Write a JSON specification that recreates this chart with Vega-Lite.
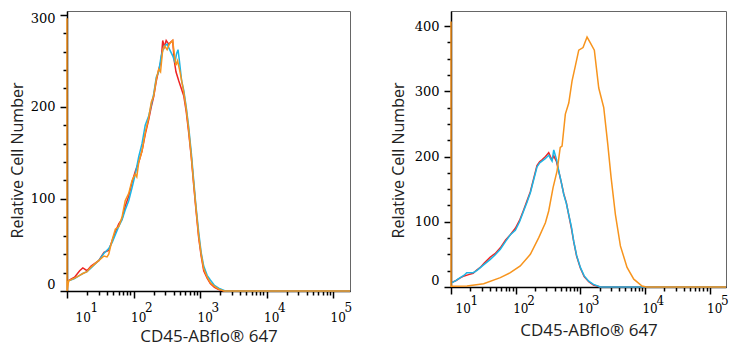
{
  "$schema": "https://vega.github.io/schema/vega-lite/v6.json",
  "background": "white",
  "padding": {"left": 8, "top": 10, "right": 5, "bottom": 5},
  "spacing": 35,
  "config": {
    "view": {"stroke": "#666666", "strokeWidth": 1},
    "axis": {
      "grid": false,
      "domainColor": "#000000",
      "domainWidth": 1.5,
      "tickColor": "#000000",
      "tickWidth": 1.5,
      "labelFont": "DejaVu Serif",
      "labelColor": "#000000",
      "titleFont": "Open Sans",
      "titleFontWeight": "normal",
      "titleFontSize": 16,
      "titleColor": "#222222",
      "labelOverlap": false,
      "labelBound": false,
      "labelFlush": false
    },
    "line": {"strokeWidth": 1.5}
  },
  "data": {"values": [
    {"panel":"A","series":"s1","x":10.6,"y":11.6},{"panel":"A","series":"s1","x":13,"y":15},{"panel":"A","series":"s1","x":15.5,"y":22},{"panel":"A","series":"s1","x":17.3,"y":25},{"panel":"A","series":"s1","x":20,"y":22},{"panel":"A","series":"s1","x":23,"y":27},{"panel":"A","series":"s1","x":30,"y":33},{"panel":"A","series":"s1","x":36,"y":42},{"panel":"A","series":"s1","x":42.4,"y":44},{"panel":"A","series":"s1","x":48,"y":55},{"panel":"A","series":"s1","x":53.3,"y":64},{"panel":"A","series":"s1","x":60,"y":73},{"panel":"A","series":"s1","x":67.1,"y":78},{"panel":"A","series":"s1","x":75,"y":92},{"panel":"A","series":"s1","x":84.7,"y":103},{"panel":"A","series":"s1","x":95,"y":118},{"panel":"A","series":"s1","x":106.5,"y":130},{"panel":"A","series":"s1","x":120,"y":140},{"panel":"A","series":"s1","x":134.2,"y":152},{"panel":"A","series":"s1","x":150,"y":170},{"panel":"A","series":"s1","x":169.2,"y":186},{"panel":"A","series":"s1","x":185,"y":200},{"panel":"A","series":"s1","x":201.3,"y":211},{"panel":"A","series":"s1","x":220,"y":228},{"panel":"A","series":"s1","x":239.3,"y":240},{"panel":"A","series":"s1","x":260,"y":250},{"panel":"A","series":"s1","x":275,"y":272},{"panel":"A","series":"s1","x":290,"y":265},{"panel":"A","series":"s1","x":310,"y":272},{"panel":"A","series":"s1","x":338,"y":268},{"panel":"A","series":"s1","x":360,"y":270},{"panel":"A","series":"s1","x":388,"y":272},{"panel":"A","series":"s1","x":410,"y":250},{"panel":"A","series":"s1","x":435,"y":238},{"panel":"A","series":"s1","x":480,"y":228},{"panel":"A","series":"s1","x":569,"y":212},{"panel":"A","series":"s1","x":620,"y":195},{"panel":"A","series":"s1","x":676,"y":172},{"panel":"A","series":"s1","x":740,"y":145},{"panel":"A","series":"s1","x":804,"y":115},{"panel":"A","series":"s1","x":870,"y":88},{"panel":"A","series":"s1","x":955,"y":58},{"panel":"A","series":"s1","x":1040,"y":38},{"panel":"A","series":"s1","x":1137,"y":22},{"panel":"A","series":"s1","x":1280,"y":14},{"panel":"A","series":"s1","x":1429,"y":8},{"panel":"A","series":"s1","x":1650,"y":4},{"panel":"A","series":"s1","x":1910,"y":1.5},{"panel":"A","series":"s1","x":2300,"y":0},{"panel":"A","series":"s1","x":180000,"y":0},
    {"panel":"A","series":"s2","x":10.6,"y":11},{"panel":"A","series":"s2","x":13,"y":13.5},{"panel":"A","series":"s2","x":15.5,"y":17},{"panel":"A","series":"s2","x":17.3,"y":19},{"panel":"A","series":"s2","x":20,"y":21},{"panel":"A","series":"s2","x":23,"y":25},{"panel":"A","series":"s2","x":30,"y":33},{"panel":"A","series":"s2","x":36,"y":41},{"panel":"A","series":"s2","x":42.4,"y":46},{"panel":"A","series":"s2","x":48,"y":53},{"panel":"A","series":"s2","x":53.3,"y":61},{"panel":"A","series":"s2","x":60,"y":70},{"panel":"A","series":"s2","x":67.1,"y":77},{"panel":"A","series":"s2","x":75,"y":88},{"panel":"A","series":"s2","x":84.7,"y":98},{"panel":"A","series":"s2","x":95,"y":112},{"panel":"A","series":"s2","x":106.5,"y":127},{"panel":"A","series":"s2","x":120,"y":146},{"panel":"A","series":"s2","x":134.2,"y":160},{"panel":"A","series":"s2","x":150,"y":180},{"panel":"A","series":"s2","x":169.2,"y":190},{"panel":"A","series":"s2","x":185,"y":202},{"panel":"A","series":"s2","x":201.3,"y":214},{"panel":"A","series":"s2","x":220,"y":232},{"panel":"A","series":"s2","x":239.3,"y":238},{"panel":"A","series":"s2","x":260,"y":255},{"panel":"A","series":"s2","x":290,"y":266},{"panel":"A","series":"s2","x":320,"y":268},{"panel":"A","series":"s2","x":350,"y":262},{"panel":"A","series":"s2","x":390,"y":255},{"panel":"A","series":"s2","x":420,"y":248},{"panel":"A","series":"s2","x":445,"y":258},{"panel":"A","series":"s2","x":467,"y":262},{"panel":"A","series":"s2","x":490,"y":250},{"panel":"A","series":"s2","x":530,"y":228},{"panel":"A","series":"s2","x":569,"y":218},{"panel":"A","series":"s2","x":620,"y":200},{"panel":"A","series":"s2","x":676,"y":178},{"panel":"A","series":"s2","x":740,"y":150},{"panel":"A","series":"s2","x":804,"y":120},{"panel":"A","series":"s2","x":870,"y":92},{"panel":"A","series":"s2","x":955,"y":64},{"panel":"A","series":"s2","x":1040,"y":42},{"panel":"A","series":"s2","x":1137,"y":27},{"panel":"A","series":"s2","x":1280,"y":17},{"panel":"A","series":"s2","x":1429,"y":12},{"panel":"A","series":"s2","x":1650,"y":6},{"panel":"A","series":"s2","x":1910,"y":3},{"panel":"A","series":"s2","x":2400,"y":0},{"panel":"A","series":"s2","x":180000,"y":0},
    {"panel":"A","series":"s3","x":10,"y":296},{"panel":"A","series":"s3","x":10.02,"y":0},{"panel":"A","series":"s3","x":10.6,"y":11},{"panel":"A","series":"s3","x":13,"y":14},{"panel":"A","series":"s3","x":15.5,"y":17},{"panel":"A","series":"s3","x":17.3,"y":19},{"panel":"A","series":"s3","x":20,"y":21},{"panel":"A","series":"s3","x":23,"y":26},{"panel":"A","series":"s3","x":30,"y":33},{"panel":"A","series":"s3","x":36,"y":38},{"panel":"A","series":"s3","x":40,"y":37},{"panel":"A","series":"s3","x":42.4,"y":40},{"panel":"A","series":"s3","x":48,"y":56},{"panel":"A","series":"s3","x":53.3,"y":67},{"panel":"A","series":"s3","x":60,"y":70},{"panel":"A","series":"s3","x":67.1,"y":80},{"panel":"A","series":"s3","x":75,"y":98},{"panel":"A","series":"s3","x":84.7,"y":106},{"panel":"A","series":"s3","x":95,"y":120},{"panel":"A","series":"s3","x":106.5,"y":127},{"panel":"A","series":"s3","x":112,"y":124},{"panel":"A","series":"s3","x":120,"y":140},{"panel":"A","series":"s3","x":134.2,"y":152},{"panel":"A","series":"s3","x":150,"y":172},{"panel":"A","series":"s3","x":169.2,"y":188},{"panel":"A","series":"s3","x":185,"y":205},{"panel":"A","series":"s3","x":201.3,"y":212},{"panel":"A","series":"s3","x":220,"y":230},{"panel":"A","series":"s3","x":239.3,"y":241},{"panel":"A","series":"s3","x":255,"y":238},{"panel":"A","series":"s3","x":275,"y":262},{"panel":"A","series":"s3","x":295,"y":266},{"panel":"A","series":"s3","x":320,"y":262},{"panel":"A","series":"s3","x":345,"y":268},{"panel":"A","series":"s3","x":365,"y":270},{"panel":"A","series":"s3","x":388,"y":272},{"panel":"A","series":"s3","x":410,"y":258},{"panel":"A","series":"s3","x":435,"y":245},{"panel":"A","series":"s3","x":460,"y":250},{"panel":"A","series":"s3","x":500,"y":238},{"panel":"A","series":"s3","x":569,"y":216},{"panel":"A","series":"s3","x":620,"y":198},{"panel":"A","series":"s3","x":676,"y":175},{"panel":"A","series":"s3","x":740,"y":146},{"panel":"A","series":"s3","x":804,"y":117},{"panel":"A","series":"s3","x":870,"y":90},{"panel":"A","series":"s3","x":955,"y":60},{"panel":"A","series":"s3","x":1040,"y":40},{"panel":"A","series":"s3","x":1137,"y":24},{"panel":"A","series":"s3","x":1280,"y":15},{"panel":"A","series":"s3","x":1429,"y":9},{"panel":"A","series":"s3","x":1650,"y":5},{"panel":"A","series":"s3","x":1910,"y":2},{"panel":"A","series":"s3","x":2300,"y":0},{"panel":"A","series":"s3","x":180000,"y":0},
    {"panel":"B","series":"s1","x":10.4,"y":7},{"panel":"B","series":"s1","x":12,"y":10},{"panel":"B","series":"s1","x":13.9,"y":14},{"panel":"B","series":"s1","x":16,"y":17},{"panel":"B","series":"s1","x":18.8,"y":19},{"panel":"B","series":"s1","x":22,"y":21},{"panel":"B","series":"s1","x":25,"y":26},{"panel":"B","series":"s1","x":28.4,"y":30},{"panel":"B","series":"s1","x":33,"y":37},{"panel":"B","series":"s1","x":40.6,"y":46},{"panel":"B","series":"s1","x":48,"y":51},{"panel":"B","series":"s1","x":58,"y":60},{"panel":"B","series":"s1","x":70,"y":72},{"panel":"B","series":"s1","x":82.8,"y":80},{"panel":"B","series":"s1","x":99,"y":90},{"panel":"B","series":"s1","x":115,"y":102},{"panel":"B","series":"s1","x":133,"y":118},{"panel":"B","series":"s1","x":150,"y":132},{"panel":"B","series":"s1","x":169,"y":146},{"panel":"B","series":"s1","x":190,"y":166},{"panel":"B","series":"s1","x":214,"y":186},{"panel":"B","series":"s1","x":235,"y":192},{"panel":"B","series":"s1","x":256,"y":195},{"panel":"B","series":"s1","x":290,"y":200},{"panel":"B","series":"s1","x":325,"y":206},{"panel":"B","series":"s1","x":345,"y":200},{"panel":"B","series":"s1","x":366,"y":195},{"panel":"B","series":"s1","x":389,"y":201},{"panel":"B","series":"s1","x":430,"y":192},{"panel":"B","series":"s1","x":465,"y":177},{"panel":"B","series":"s1","x":510,"y":160},{"panel":"B","series":"s1","x":555,"y":143},{"panel":"B","series":"s1","x":610,"y":129},{"panel":"B","series":"s1","x":664,"y":110},{"panel":"B","series":"s1","x":730,"y":90},{"panel":"B","series":"s1","x":793,"y":69},{"panel":"B","series":"s1","x":880,"y":47},{"panel":"B","series":"s1","x":1004,"y":29},{"panel":"B","series":"s1","x":1150,"y":16},{"panel":"B","series":"s1","x":1353,"y":8},{"panel":"B","series":"s1","x":1600,"y":3},{"panel":"B","series":"s1","x":2046,"y":0},{"panel":"B","series":"s1","x":180000,"y":0},
    {"panel":"B","series":"s2","x":10.4,"y":6.6},{"panel":"B","series":"s2","x":12,"y":10},{"panel":"B","series":"s2","x":13.9,"y":14.3},{"panel":"B","series":"s2","x":16,"y":18},{"panel":"B","series":"s2","x":17.5,"y":22},{"panel":"B","series":"s2","x":18.8,"y":22},{"panel":"B","series":"s2","x":22,"y":22},{"panel":"B","series":"s2","x":25,"y":25},{"panel":"B","series":"s2","x":28.4,"y":29.6},{"panel":"B","series":"s2","x":33,"y":35},{"panel":"B","series":"s2","x":40.6,"y":42.4},{"panel":"B","series":"s2","x":48,"y":49},{"panel":"B","series":"s2","x":58,"y":57.8},{"panel":"B","series":"s2","x":70,"y":70},{"panel":"B","series":"s2","x":82.8,"y":80},{"panel":"B","series":"s2","x":99,"y":87},{"panel":"B","series":"s2","x":115,"y":100},{"panel":"B","series":"s2","x":133,"y":116.5},{"panel":"B","series":"s2","x":150,"y":130},{"panel":"B","series":"s2","x":169,"y":144.5},{"panel":"B","series":"s2","x":190,"y":164},{"panel":"B","series":"s2","x":214,"y":184},{"panel":"B","series":"s2","x":235,"y":190},{"panel":"B","series":"s2","x":256,"y":193},{"panel":"B","series":"s2","x":290,"y":197},{"panel":"B","series":"s2","x":325,"y":202},{"panel":"B","series":"s2","x":345,"y":197},{"panel":"B","series":"s2","x":366,"y":193},{"panel":"B","series":"s2","x":389,"y":210},{"panel":"B","series":"s2","x":430,"y":195},{"panel":"B","series":"s2","x":465,"y":178},{"panel":"B","series":"s2","x":510,"y":160},{"panel":"B","series":"s2","x":555,"y":142},{"panel":"B","series":"s2","x":610,"y":128},{"panel":"B","series":"s2","x":664,"y":111},{"panel":"B","series":"s2","x":730,"y":92},{"panel":"B","series":"s2","x":793,"y":70},{"panel":"B","series":"s2","x":880,"y":48},{"panel":"B","series":"s2","x":1004,"y":30},{"panel":"B","series":"s2","x":1150,"y":17},{"panel":"B","series":"s2","x":1353,"y":9},{"panel":"B","series":"s2","x":1600,"y":4},{"panel":"B","series":"s2","x":2046,"y":0},{"panel":"B","series":"s2","x":180000,"y":0},
    {"panel":"B","series":"s3","x":10,"y":407},{"panel":"B","series":"s3","x":10.02,"y":1},{"panel":"B","series":"s3","x":17.7,"y":1.5},{"panel":"B","series":"s3","x":32,"y":5},{"panel":"B","series":"s3","x":58,"y":14.3},{"panel":"B","series":"s3","x":82.8,"y":21.9},{"panel":"B","series":"s3","x":118,"y":32.2},{"panel":"B","series":"s3","x":169,"y":50.1},{"panel":"B","series":"s3","x":228,"y":75.6},{"panel":"B","series":"s3","x":289,"y":98.5},{"panel":"B","series":"s3","x":325,"y":116.5},{"panel":"B","series":"s3","x":379,"y":152},{"panel":"B","series":"s3","x":438,"y":178},{"panel":"B","series":"s3","x":490,"y":214},{"panel":"B","series":"s3","x":523,"y":216},{"panel":"B","series":"s3","x":588,"y":265},{"panel":"B","series":"s3","x":664,"y":282},{"panel":"B","series":"s3","x":747,"y":316},{"panel":"B","series":"s3","x":840,"y":339},{"panel":"B","series":"s3","x":948,"y":363},{"panel":"B","series":"s3","x":1105,"y":367},{"panel":"B","series":"s3","x":1274,"y":383},{"panel":"B","series":"s3","x":1433,"y":374},{"panel":"B","series":"s3","x":1652,"y":363},{"panel":"B","series":"s3","x":1933,"y":305},{"panel":"B","series":"s3","x":2310,"y":275},{"panel":"B","series":"s3","x":2665,"y":219},{"panel":"B","series":"s3","x":3000,"y":168},{"panel":"B","series":"s3","x":3500,"y":111},{"panel":"B","series":"s3","x":4180,"y":63},{"panel":"B","series":"s3","x":5300,"y":30},{"panel":"B","series":"s3","x":6730,"y":12},{"panel":"B","series":"s3","x":9050,"y":1.5},{"panel":"B","series":"s3","x":10540,"y":0},{"panel":"B","series":"s3","x":180000,"y":0}
  ]},
  "hconcat": [
    {
      "width": 283,
      "height": 280,
      "resolve": {"axis": {"x": "independent"}},
      "layer": [
        {
          "transform": [{"filter": "datum.panel == 'A' && datum.series != 's3'"}],
          "mark": {"type": "line", "strokeWidth": 1.5},
          "encoding": {
            "x": {
              "field": "x", "type": "quantitative",
              "scale": {"type": "log", "domain": [10, 180000], "nice": false},
              "axis": {
                "orient": "bottom",
                "title": "CD45-ABflo® 647",
                "titleFontSize": 17,
                "values": [10,20,30,40,50,60,70,80,90,100,200,300,400,500,600,700,800,900,1000,2000,3000,4000,5000,6000,7000,8000,9000,10000,20000,30000,40000,50000,60000,70000,80000,90000,100000],
                "tickSize": {"condition": {"test": "datum.value==10||datum.value==100||datum.value==1000||datum.value==10000||datum.value==100000", "value": 7}, "value": 4},
                "labelExpr": "(datum.value==10||datum.value==100||datum.value==1000||datum.value==10000||datum.value==100000) ? '10' : ''",
                "labelAlign": "left",
                "labelBaseline": "top",
                "labelFontSize": 12,
                "labelPadding": 14,
                "labelOffset": {"condition": {"test": "datum.value==10", "value": 8}, "value": -3},
                "titlePadding": 5
              }
            },
            "y": {
              "field": "y", "type": "quantitative",
              "scale": {"domain": [0, 304], "nice": false},
              "axis": {
                "title": "Relative Cell Number",
                "values": [0,20,40,60,80,100,120,140,160,180,200,220,240,260,280,300],
                "tickSize": {"condition": {"test": "datum.value % 100 == 0", "value": 7}, "value": 4},
                "labelExpr": "datum.value % 100 == 0 ? datum.label : ''",
                "labelBaseline": {"condition": {"test": "datum.value == 0", "value": "bottom"}, "value": "middle"},
                "labelOffset": {"condition": {"test": "datum.value == 300", "value": 4}, "value": 0},
                "labelFontSize": 13,
                "labelPadding": 5,
                "titlePadding": 5,
                "titleY": 149
              }
            },
            "color": {"field": "series", "type": "nominal", "scale": {"domain": ["s1","s2","s3"], "range": ["#ee2424","#1cb6e6","#f7941d"]}, "legend": null}
          }
        },
        {
          "transform": [{"filter": "datum.panel == 'A' && datum.series == 's3'"}],
          "mark": {"type": "line", "strokeWidth": 1.5},
          "encoding": {
            "x": {
              "field": "x", "type": "quantitative",
              "scale": {"type": "log", "domain": [10, 180000], "nice": false},
              "axis": {
                "orient": "bottom",
                "title": null,
                "domain": false,
                "ticks": false,
                "tickSize": 0,
                "values": [10,100,1000,10000,100000],
                "labelExpr": "'' + round(log(datum.value)/LN10)",
                "labelAlign": "left",
                "labelBaseline": "top",
                "labelFontSize": 12,
                "labelPadding": 11,
                "labelOffset": {"condition": {"test": "datum.value==10", "value": 23}, "value": 11}
              }
            },
            "y": {
              "field": "y", "type": "quantitative",
              "scale": {"domain": [0, 304], "nice": false},
              "axis": {
                "title": "Relative Cell Number",
                "values": [0,20,40,60,80,100,120,140,160,180,200,220,240,260,280,300],
                "tickSize": {"condition": {"test": "datum.value % 100 == 0", "value": 7}, "value": 4},
                "labelExpr": "datum.value % 100 == 0 ? datum.label : ''",
                "labelBaseline": {"condition": {"test": "datum.value == 0", "value": "bottom"}, "value": "middle"},
                "labelOffset": {"condition": {"test": "datum.value == 300", "value": 4}, "value": 0},
                "labelFontSize": 13,
                "labelPadding": 5,
                "titlePadding": 5,
                "titleY": 149
              }
            },
            "color": {"field": "series", "type": "nominal", "scale": {"domain": ["s1","s2","s3"], "range": ["#ee2424","#1cb6e6","#f7941d"]}, "legend": null}
          }
        }
      ]
    },
    {
      "width": 275,
      "height": 276,
      "resolve": {"axis": {"x": "independent"}},
      "layer": [
        {
          "transform": [{"filter": "datum.panel == 'B' && datum.series != 's3'"}],
          "mark": {"type": "line", "strokeWidth": 1.5},
          "encoding": {
            "x": {
              "field": "x", "type": "quantitative",
              "scale": {"type": "log", "domain": [10, 180000], "nice": false},
              "axis": {
                "orient": "bottom",
                "title": "CD45-ABflo® 647",
                "titleFontSize": 17,
                "values": [10,20,30,40,50,60,70,80,90,100,200,300,400,500,600,700,800,900,1000,2000,3000,4000,5000,6000,7000,8000,9000,10000,20000,30000,40000,50000,60000,70000,80000,90000,100000],
                "tickSize": {"condition": {"test": "datum.value==10||datum.value==100||datum.value==1000||datum.value==10000||datum.value==100000", "value": 7}, "value": 4},
                "labelExpr": "(datum.value==10||datum.value==100||datum.value==1000||datum.value==10000||datum.value==100000) ? '10' : ''",
                "labelAlign": "left",
                "labelBaseline": "top",
                "labelFontSize": 12,
                "labelPadding": 9,
                "labelOffset": {"condition": {"test": "datum.value==10", "value": 4}, "value": -3},
                "titlePadding": 8
              }
            },
            "y": {
              "field": "y", "type": "quantitative",
              "scale": {"domain": [0, 423], "nice": false},
              "axis": {
                "title": "Relative Cell Number",
                "values": [0,25,50,75,100,125,150,175,200,225,250,275,300,325,350,375,400],
                "tickSize": {"condition": {"test": "datum.value % 100 == 0", "value": 7}, "value": 4},
                "labelExpr": "datum.value % 100 == 0 ? datum.label : ''",
                "labelBaseline": {"condition": {"test": "datum.value == 0", "value": "bottom"}, "value": "middle"},
                "labelFontSize": 13,
                "labelPadding": 5,
                "titlePadding": 8,
                "titleY": 149
              }
            },
            "color": {"field": "series", "type": "nominal", "scale": {"domain": ["s1","s2","s3"], "range": ["#ee2424","#1cb6e6","#f7941d"]}, "legend": null}
          }
        },
        {
          "transform": [{"filter": "datum.panel == 'B' && datum.series == 's3'"}],
          "mark": {"type": "line", "strokeWidth": 1.5},
          "encoding": {
            "x": {
              "field": "x", "type": "quantitative",
              "scale": {"type": "log", "domain": [10, 180000], "nice": false},
              "axis": {
                "orient": "bottom",
                "title": null,
                "domain": false,
                "ticks": false,
                "tickSize": 0,
                "values": [10,100,1000,10000,100000],
                "labelExpr": "'' + round(log(datum.value)/LN10)",
                "labelAlign": "left",
                "labelBaseline": "top",
                "labelFontSize": 12,
                "labelPadding": 8,
                "labelOffset": {"condition": {"test": "datum.value==10", "value": 19}, "value": 11}
              }
            },
            "y": {
              "field": "y", "type": "quantitative",
              "scale": {"domain": [0, 423], "nice": false},
              "axis": {
                "title": "Relative Cell Number",
                "values": [0,25,50,75,100,125,150,175,200,225,250,275,300,325,350,375,400],
                "tickSize": {"condition": {"test": "datum.value % 100 == 0", "value": 7}, "value": 4},
                "labelExpr": "datum.value % 100 == 0 ? datum.label : ''",
                "labelBaseline": {"condition": {"test": "datum.value == 0", "value": "bottom"}, "value": "middle"},
                "labelFontSize": 13,
                "labelPadding": 5,
                "titlePadding": 8,
                "titleY": 149
              }
            },
            "color": {"field": "series", "type": "nominal", "scale": {"domain": ["s1","s2","s3"], "range": ["#ee2424","#1cb6e6","#f7941d"]}, "legend": null}
          }
        }
      ]
    }
  ]
}
